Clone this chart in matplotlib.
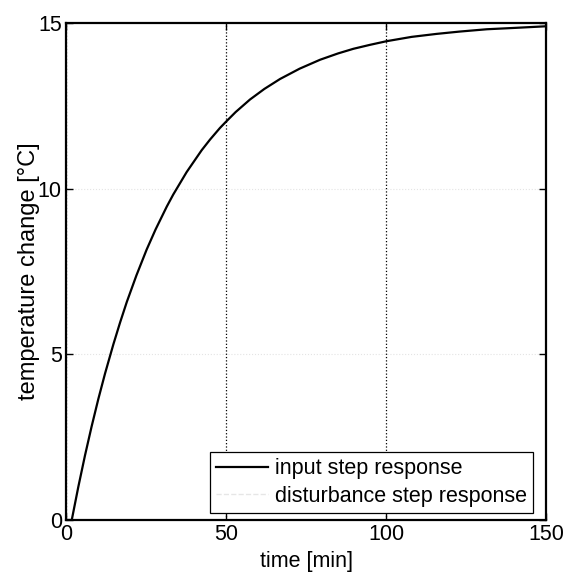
import matplotlib
matplotlib.use("Agg")
import matplotlib.pyplot as plt

# data
time_min = [0, 1.8, 3.85, 5.94, 8.0, 10.1, 12.2, 14.8, 16.9, 19.0, 22.0, 25.2,
            28.0, 31.5, 33.5, 37.7, 42.4, 45.0, 48.1, 50.0, 53.0, 57.5, 62.0,
            66.9, 73.0, 79.4, 85.0, 89.8, 95.0, 100.2, 108.0, 115.8, 123.0,
            131.5, 140.0, 148.0, 150.0]
input_resp = [0, 0, 1.0, 1.95, 2.82, 3.65, 4.42, 5.30, 5.96, 6.58, 7.38, 8.16,
              8.77, 9.46, 9.82, 10.50, 11.16, 11.48, 11.83, 12.02, 12.31, 12.69,
              13.01, 13.31, 13.62, 13.89, 14.08, 14.22, 14.34, 14.45, 14.58,
              14.67, 14.74, 14.81, 14.85, 14.89, 14.90]
dist_time = [0, 150]
dist_resp = [0, 0]

x_ticks = [0, 50, 100, 150]
y_ticks = [0, 5, 10, 15]

plt.rcParams['font.family'] = ['Liberation Sans', 'DejaVu Sans']

fig = plt.figure(figsize=(5.66, 5.74), dpi=100)
ax = fig.add_axes([0.1166, 0.0941, 0.8481, 0.8659])

ax.plot(time_min, input_resp, color='black', lw=1.6, label='input step response',
        solid_joinstyle='round')
ax.plot(dist_time, dist_resp, color='#e6e6e6', lw=1.0, ls='--',
        label='disturbance step response')

ax.set_xlim(0, 150)
ax.set_ylim(0, 15)
ax.set_xticks(x_ticks)
ax.set_yticks(y_ticks)
ax.tick_params(direction='in', top=True, right=True, labelsize=15.5,
               length=5, width=1.0, pad=3)
for s in ax.spines.values():
    s.set_linewidth(1.6)
    s.set_color('black')

ax.grid(axis='x', color='black', ls=':', lw=0.9)
for yv in [5, 10]:
    ax.axhline(yv, color='#e4e4e4', ls=':', lw=0.8, zorder=0)

ax.set_xlabel('time [min]', fontsize=15.5, labelpad=4)
ax.set_ylabel('temperature change [\u00b0C]', fontsize=17, labelpad=-1.5)

leg = ax.legend(loc='lower right', bbox_to_anchor=(0.973, 0.014),
                borderaxespad=0, fontsize=15.5, handlelength=2.4,
                handletextpad=0.3, labelspacing=0.3, borderpad=0.3,
                fancybox=False, framealpha=1)
leg.get_frame().set_edgecolor('black')
leg.get_frame().set_linewidth(0.9)

fig.savefig('out.png', dpi=100)
